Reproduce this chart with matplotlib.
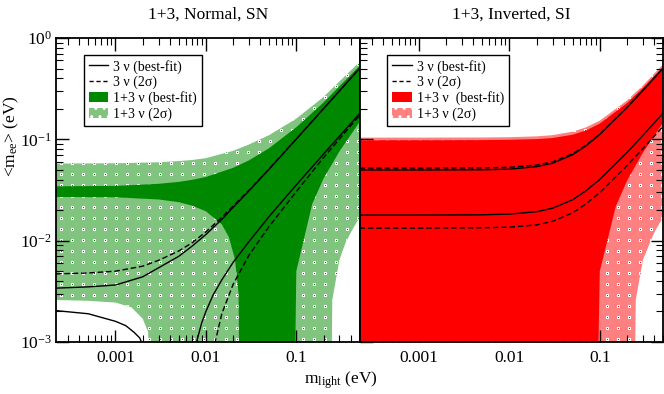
import numpy as np
import matplotlib
matplotlib.use("Agg")
import matplotlib.pyplot as plt
from matplotlib.ticker import LogLocator, FixedLocator, FixedFormatter, NullFormatter
from matplotlib.lines import Line2D
from matplotlib.patches import Patch

plt.rcParams['font.family'] = ['Liberation Serif', 'DejaVu Serif']
plt.rcParams['mathtext.fontset'] = 'custom'
plt.rcParams['mathtext.rm'] = 'Liberation Serif'
plt.rcParams['mathtext.it'] = 'Liberation Serif:italic'
plt.rcParams['hatch.linewidth'] = 1.0

# ---------------- data: left panel (1+3, Normal, SN) ----------------
n_up_m = [2.2e-4, 5e-4, 1e-3, 2e-3, 3e-3, 5e-3, 7e-3, 1e-2, 1.5e-2, 2e-2, 3e-2, 5e-2, 0.1, 0.2, 0.5]
n_up_bf = [3.4e-3, 3.5e-3, 3.65e-3, 4.4e-3, 5.4e-3, 7.0e-3, 8.8e-3, 1.15e-2, 1.62e-2, 2.13e-2, 3.1e-2, 5.07e-2, 0.1006, 0.2006, 0.5]
n_up_2s = [4.7e-3, 4.8e-3, 5.0e-3, 5.6e-3, 6.4e-3, 7.9e-3, 9.5e-3, 1.22e-2, 1.7e-2, 2.2e-2, 3.15e-2, 5.1e-2, 0.101, 0.201, 0.5]

n_lo1_m = [2.2e-4, 5e-4, 1e-3, 1.3e-3, 1.6e-3, 1.85e-3, 2.05e-3]
n_lo1_bf = [2.04e-3, 1.9e-3, 1.6e-3, 1.45e-3, 1.25e-3, 1.1e-3, 0.9e-3]

n_lo2_m = [7.6e-3, 8e-3, 9e-3, 1e-2, 1.2e-2, 1.5e-2, 2e-2, 3e-2, 5e-2, 0.1, 0.2, 0.5]
n_lo2_bf = [8e-4, 1.05e-3, 1.55e-3, 2.0e-3, 2.9e-3, 4.1e-3, 6.1e-3, 9.8e-3, 0.0173, 0.0355, 0.0715, 0.179]

n_lo2s_m = [0.0122, 0.013, 0.015, 0.02, 0.03, 0.05, 0.1, 0.2, 0.5]
n_lo2s = [8e-4, 1.1e-3, 1.9e-3, 3.7e-3, 7.2e-3, 0.0138, 0.0305, 0.066, 0.172]

# 1+3 best-fit band
n_bf_top_m = [2.2e-4, 1e-3, 3e-3, 5e-3, 7e-3, 1e-2, 2e-2, 3e-2, 5e-2, 0.1, 0.2, 0.5]
n_bf_top = [0.0344, 0.0347, 0.0364, 0.038, 0.0398, 0.0425, 0.0523, 0.062, 0.0817, 0.1316, 0.231, 0.531]
n_bf_bot_m = [2.2e-4, 1e-3, 3e-3, 5e-3, 7e-3, 1e-2, 1.5e-2, 1.8e-2, 2.1e-2, 2.3e-2, 2.45e-2, 0.088, 0.1, 0.15, 0.2, 0.3, 0.5]
n_bf_bot = [0.027, 0.0268, 0.0255, 0.024, 0.0222, 0.0195, 0.0145, 0.0108, 0.0065, 0.003, 0.0, 0.0, 0.005, 0.023, 0.041, 0.076, 0.148]

# 1+3 2-sigma band
n_2s_top_m = [2.2e-4, 1e-3, 3e-3, 5e-3, 7e-3, 1e-2, 2e-2, 3e-2, 5e-2, 0.1, 0.2, 0.5]
n_2s_top = [0.0577, 0.058, 0.0594, 0.061, 0.0625, 0.0652, 0.077, 0.089, 0.11, 0.16, 0.262, 0.58]
n_2s_bot_m = [2.2e-4, 5e-4, 1e-3, 1.5e-3, 2e-3, 2.3e-3, 2.55e-3, 0.23, 0.25, 0.3, 0.35, 0.4, 0.5]
n_2s_bot = [2.6e-3, 2.55e-3, 2.45e-3, 2.2e-3, 1.7e-3, 1.25e-3, 0.0, 0.0, 2.6e-3, 6.5e-3, 9.5e-3, 0.012, 0.017]

# ---------------- data: right panel (1+3, Inverted, SI) ----------------
i_m = [2.2e-4, 1e-3, 5e-3, 1e-2, 2e-2, 3e-2, 5e-2, 0.07, 0.1, 0.2, 0.3, 0.5]
i_up_bf = [0.0498, 0.0498, 0.0501, 0.0508, 0.0537, 0.0581, 0.0704, 0.086, 0.1117, 0.206, 0.304, 0.502]
i_up_2s = [0.052, 0.052, 0.0522, 0.053, 0.0557, 0.06, 0.072, 0.0873, 0.1127, 0.2066, 0.3044, 0.5027]
i_lo_bf = [0.0179, 0.0179, 0.018, 0.0183, 0.0193, 0.0209, 0.0253, 0.031, 0.0402, 0.0742, 0.1094, 0.181]
i_lo_2s = [0.0133, 0.0133, 0.0134, 0.0136, 0.0143, 0.0155, 0.0188, 0.023, 0.0298, 0.055, 0.081, 0.134]

i_bf_top_m = [2.2e-4, 1e-3, 5e-3, 1e-2, 2e-2, 3e-2, 5e-2, 0.07, 0.1, 0.2, 0.3, 0.5]
i_bf_top = [0.098, 0.098, 0.0983, 0.099, 0.1005, 0.103, 0.111, 0.122, 0.143, 0.228, 0.322, 0.52]
i_bf_bot_m = [2.2e-4, 0.084, 0.1, 0.15, 0.2, 0.3, 0.5]
i_bf_bot = [0.0, 0.0, 5e-3, 0.0217, 0.039, 0.074, 0.146]

i_2s_top_m = [2.2e-4, 1e-3, 5e-3, 1e-2, 2e-2, 3e-2, 5e-2, 0.07, 0.1, 0.2, 0.3, 0.5]
i_2s_top = [0.104, 0.104, 0.1043, 0.105, 0.107, 0.11, 0.119, 0.131, 0.153, 0.242, 0.34, 0.55]
i_2s_bot_m = [2.2e-4, 0.225, 0.25, 0.3, 0.4, 0.5]
i_2s_bot = [0.0, 0.0, 2.6e-3, 6.5e-3, 0.012, 0.017]

xticks = [1e-3, 1e-2, 1e-1]
xticklabels = ['0.001', '0.01', '0.1']
yticks = [1e-3, 1e-2, 1e-1, 1e0]
yticklabels = ['$10^{-3}$', '$10^{-2}$', '$10^{-1}$', '$10^{0}$']

XMIN, XMAX, YMIN, YMAX = 2.2e-4, 0.5, 1e-3, 1.0
FLOOR = 1e-6
FIGW, FIGH = 664, 394

DG, LG = '#008800', '#80c480'
RD, LR = '#ff0000', '#ff8080'


def textured_band(ax, mt, yt, mb, yb, face, center, z=1):
    xs = list(mt) + list(mb)[::-1]
    ys = list(yt) + list(np.maximum(yb, FLOOR))[::-1]
    poly, = ax.fill(xs, ys, facecolor=face, edgecolor='none', linewidth=0, zorder=z)
    pos = ax.get_position()
    w = int(round(pos.width * FIGW))
    h = int(round(pos.height * FIGH))
    img = np.zeros((h, w, 4))
    cc = matplotlib.colors.to_rgba(center)
    per = 11
    for r0 in range(3, h, per):
        for c0 in range(4, w, per):
            img[r0:r0 + 3, c0:c0 + 3] = (1, 1, 1, 1)
            if r0 + 1 < h and c0 + 1 < w:
                img[r0 + 1, c0 + 1] = cc
    im = ax.imshow(img, extent=(0, 1, 0, 1), transform=ax.transAxes, interpolation='nearest',
                   aspect='auto', zorder=z + 0.1)
    im.set_clip_path(poly)


def solid_band(ax, mt, yt, mb, yb, face, z=2):
    xs = list(mt) + list(mb)[::-1]
    ys = list(yt) + list(np.maximum(yb, FLOOR))[::-1]
    ax.fill(xs, ys, facecolor=face, edgecolor='none', linewidth=0, zorder=z)


fig = plt.figure(figsize=(FIGW / 100, FIGH / 100), dpi=100)
L, R, B, T = 56 / FIGW, 663 / FIGW, 1 - 342 / FIGH, 1 - 38 / FIGH
W = (R - L) / 2
ax1 = fig.add_axes([L, B, W, T - B])
ax2 = fig.add_axes([L + W, B, W, T - B])

for ax in (ax1, ax2):
    ax.set_xscale('log')
    ax.set_yscale('log')
    ax.set_xlim(XMIN, XMAX)
    ax.set_ylim(YMIN, YMAX)
    ax.set_autoscale_on(False)

# left panel
textured_band(ax1, n_2s_top_m, n_2s_top, n_2s_bot_m, n_2s_bot, LG, DG, z=1)
solid_band(ax1, n_bf_top_m, n_bf_top, n_bf_bot_m, n_bf_bot, DG, z=2)
ax1.plot(n_up_m, n_up_bf, 'k-', lw=1.0, zorder=3)
ax1.plot(n_up_m, n_up_2s, 'k--', lw=1.0, dashes=(4, 2), zorder=3)
ax1.plot(n_lo1_m, n_lo1_bf, 'k-', lw=1.0, zorder=3)
ax1.plot(n_lo2_m, n_lo2_bf, 'k-', lw=1.0, zorder=3)
ax1.plot(n_lo2s_m, n_lo2s, 'k--', lw=1.0, dashes=(4, 2), zorder=3)

# right panel
textured_band(ax2, i_2s_top_m, i_2s_top, i_2s_bot_m, i_2s_bot, LR, RD, z=1)
solid_band(ax2, i_bf_top_m, i_bf_top, i_bf_bot_m, i_bf_bot, RD, z=2)
ax2.plot(i_m, i_up_bf, 'k-', lw=1.0, zorder=3)
ax2.plot(i_m, i_up_2s, 'k--', lw=1.0, dashes=(4, 2), zorder=3)
ax2.plot(i_m, i_lo_bf, 'k-', lw=1.0, zorder=3)
ax2.plot(i_m, i_lo_2s, 'k--', lw=1.0, dashes=(4, 2), zorder=3)

for ax in (ax1, ax2):
    ax.set_xlim(XMIN, XMAX)
    ax.set_ylim(YMIN, YMAX)
    ax.xaxis.set_major_locator(FixedLocator(xticks))
    ax.xaxis.set_major_formatter(FixedFormatter(xticklabels))
    ax.xaxis.set_minor_locator(LogLocator(base=10, subs=np.arange(2, 10), numticks=20))
    ax.xaxis.set_minor_formatter(NullFormatter())
    ax.yaxis.set_major_locator(FixedLocator(yticks))
    ax.yaxis.set_minor_locator(LogLocator(base=10, subs=np.arange(2, 10), numticks=20))
    ax.yaxis.set_minor_formatter(NullFormatter())
    ax.tick_params(which='major', direction='in', length=9, width=1.0, labelsize=12.5, top=True, pad=6)
    ax.tick_params(which='minor', direction='in', length=5, width=0.8, top=True)
    for s in ax.spines.values():
        s.set_linewidth(1.3)
        s.set_zorder(5)

ax1.yaxis.set_major_formatter(FixedFormatter(yticklabels))
ax1.tick_params(which='both', right=False)
ax1.tick_params(axis='y', which='major', pad=3)
ax2.tick_params(which='both', left=True, right=True, labelleft=False)

ax1.set_title('1+3, Normal, SN', fontsize=12.5, pad=14)
ax2.set_title('1+3, Inverted, SI', fontsize=12.5, pad=14)
fig.text(11 / FIGW, 1 - 136 / FIGH, r'<m$_{\rm ee}$> (eV)', rotation=90, ha='center', va='center', fontsize=12.5)
fig.text(341 / FIGW, 1 - 380 / FIGH, r'm$_{\rm light}$ (eV)', ha='center', va='center', fontsize=12.5)


def leg(face2, face1):
    handles = [Line2D([], [], color='k', lw=1.0),
               Line2D([], [], color='k', lw=1.0, ls='--', dashes=(3, 2)),
               Patch(facecolor=face1, edgecolor='none'),
               Patch(facecolor=face2, edgecolor='white', hatch='..', linewidth=0)]
    labels = ['3 ν (best-fit)', '3 ν (2σ)', '1+3 ν (best-fit)', '1+3 ν (2σ)']
    return handles, labels


for ax, f2, f1, lab2 in ((ax1, LG, DG, '1+3 ν (best-fit)'), (ax2, LR, RD, '1+3 ν  (best-fit)')):
    h, lab = leg(f2, f1)
    lab[2] = lab2
    lg = ax.legend(h, lab, loc='upper left', bbox_to_anchor=(0.092, 0.945), fontsize=10,
                   frameon=True, fancybox=False, edgecolor='black', framealpha=1,
                   handlelength=1.4, handleheight=0.75, labelspacing=0.15, borderpad=0.35,
                   handletextpad=0.35, borderaxespad=0)
    lg.get_frame().set_linewidth(1.0)
    lg.set_zorder(10)

fig.savefig('out.png', dpi=100)
